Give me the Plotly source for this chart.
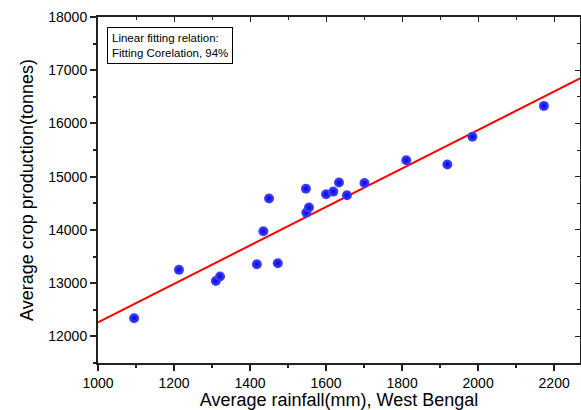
import plotly.graph_objects as go

# values
rainfall = [1095, 1213, 1310, 1321, 1418, 1473, 1435, 1450, 1547, 1548,
            1555, 1600, 1619, 1634, 1655, 1701, 1811, 1919, 1985, 2173]
production = [12340, 13250, 13040, 13125, 13355, 13375, 13975, 14590, 14775, 14325,
              14420, 14670, 14720, 14890, 14650, 14880, 15310, 15230, 15750, 16330]

fit_x = [1000, 2300]
fit_y = [12263, 16961]

x_range = [1000, 2268]
y_range = [11500, 18000]

font = "Arial, Liberation Sans, sans-serif"

fig = go.Figure()
fig.add_trace(go.Scatter(x=fit_x, y=fit_y, mode="lines", line=dict(color="#ff0000", width=2),
                         showlegend=False, hoverinfo="skip"))
fig.add_trace(go.Scatter(x=rainfall, y=production, mode="markers", showlegend=False,
                         marker=dict(size=10, color="#4a4aff", line=dict(width=0),
                                     gradient=dict(type="radial", color="#0000dd"))))
# dummy trace so the top / right frame axes get drawn
fig.add_trace(go.Scatter(x=[None], y=[None], xaxis="x2", yaxis="y2", showlegend=False))

fig.update_layout(
    width=581, height=410, plot_bgcolor="white", paper_bgcolor="white",
    margin=dict(l=98, r=1, t=17, b=47),
    font=dict(family=font, size=14, color="black"),
    xaxis=dict(range=x_range, dtick=200, tickformat="d", showgrid=False, zeroline=False,
               automargin=False, showline=True, linecolor="#222", linewidth=2,
               ticks="outside", ticklen=6, tickwidth=1.5, tickcolor="#222",
               minor=dict(dtick=100, ticks="outside", ticklen=3, tickcolor="#222"),
               title=dict(text="Average rainfall(mm), West Bengal", font=dict(size=18), standoff=0)),
    yaxis=dict(range=y_range, tick0=12000, dtick=1000, tickformat="d", showgrid=False,
               zeroline=False, automargin=False, showline=True, linecolor="#222", linewidth=2,
               ticks="outside", ticklen=6, tickwidth=1.5, tickcolor="#222",
               minor=dict(dtick=500, ticks="outside", ticklen=3, tickcolor="#222"),
               title=dict(text="Average crop production(tonnes)", font=dict(size=18), standoff=10)),
    xaxis2=dict(range=x_range, overlaying="x", side="top", dtick=200, showgrid=False,
                zeroline=False, showticklabels=False, showline=True, linecolor="#222",
                automargin=False, linewidth=1.5, ticks="inside", ticklen=5, tickcolor="#222",
                minor=dict(dtick=100, ticks="inside", ticklen=3, tickcolor="#222")),
    yaxis2=dict(range=y_range, overlaying="y", side="right", tick0=12000, dtick=1000,
                showgrid=False, zeroline=False, showticklabels=False, showline=True,
                automargin=False, linecolor="#222", linewidth=1.5, ticks="inside", ticklen=5,
                tickcolor="#222",
                minor=dict(dtick=500, ticks="inside", ticklen=3, tickcolor="#222")),
)

fig.add_annotation(xref="paper", yref="paper", x=0.018, y=0.972, xanchor="left", yanchor="top",
                   text="Linear fitting relation:<br>Fitting Corelation, 94%", showarrow=False,
                   align="left", font=dict(size=11.5, color="black"),
                   bordercolor="black", borderwidth=1, borderpad=4, bgcolor="white")

# page body has a default margin that pushes the figure off the window
fig.write_html("out.html", config={"displayModeBar": False},
               post_script="document.body.style.margin='0';")
